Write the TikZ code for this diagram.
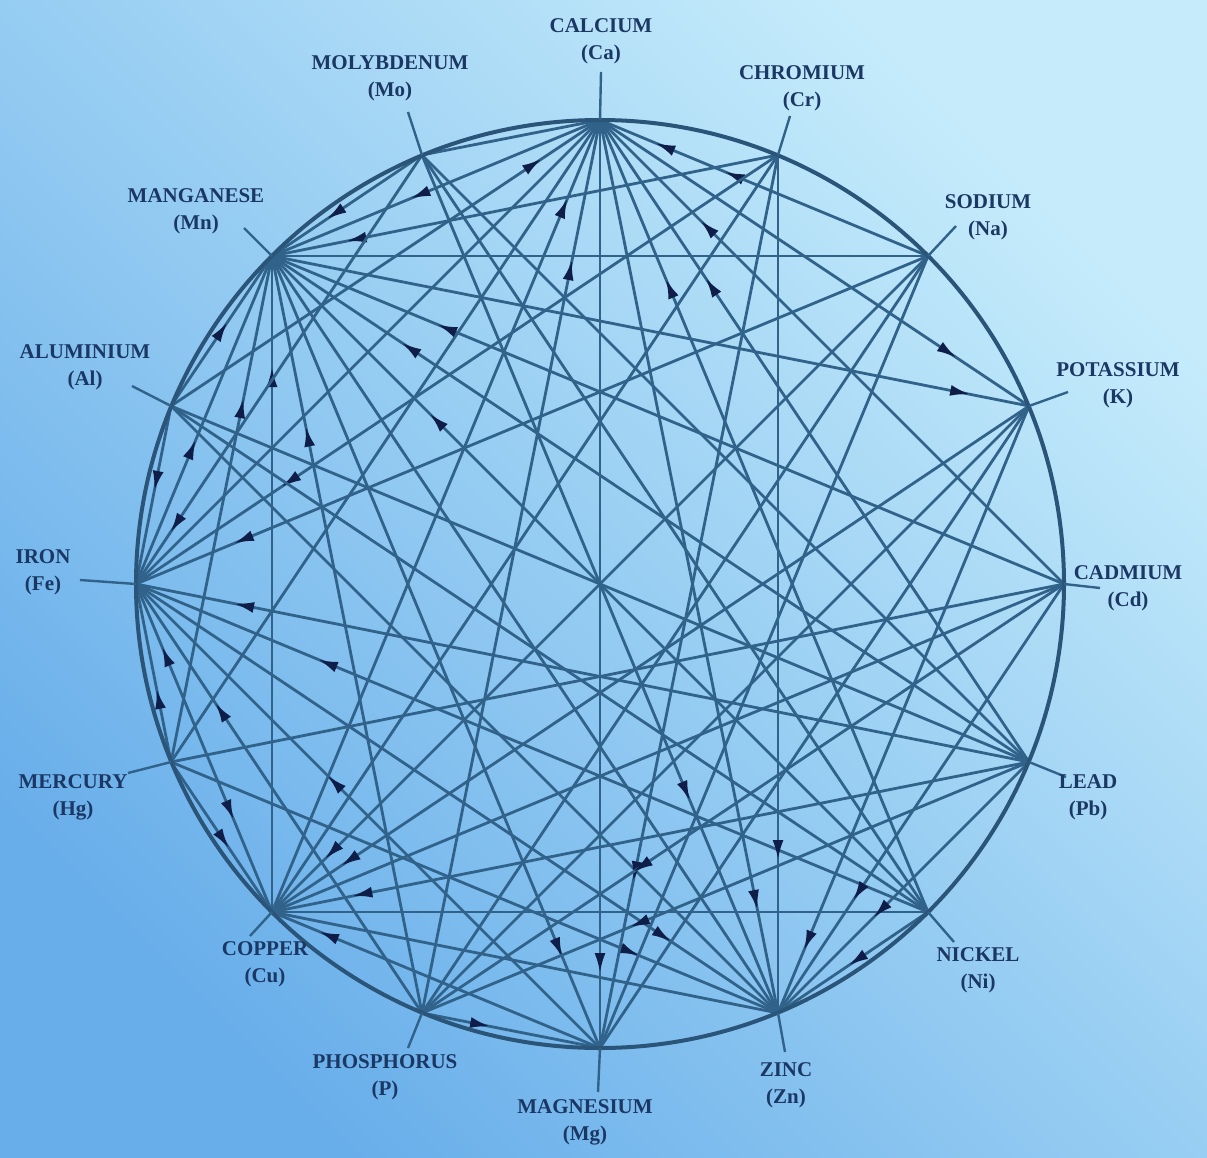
\documentclass[tikz,border=0pt]{standalone}
\usepackage{fontspec}
\setmainfont{Liberation Serif}
\usetikzlibrary{arrows.meta,decorations.markings}
\definecolor{bgLight}{HTML}{C6ECFB}
\definecolor{bgDark}{HTML}{68AEEA}
\definecolor{lineCol}{HTML}{30628A}
\definecolor{rimCol}{HTML}{2B5479}
\definecolor{headCol}{HTML}{0E1E48}
\definecolor{textCol}{HTML}{1B3763}
\begin{document}
\begin{tikzpicture}[x=1pt,y=-1pt,
  chord/.style={draw=lineCol, line width=2.8pt},
  rim/.style={draw=rimCol, line width=4pt},
  tickln/.style={draw=lineCol, line width=2.4pt},
  lab/.style={font=\bfseries\fontsize{21}{27}\selectfont, text=textCol, align=center, inner sep=0pt},
  tipshape/.tip={Latex[length=20pt,width=11pt]},
  aS/.style={postaction={decorate, decoration={markings, mark=at position #1 with {\arrowreversed[headCol]{tipshape}}}}},
  aE/.style={postaction={decorate, decoration={markings, mark=at position -#1 with {\arrow[headCol]{tipshape}}}}},
]
\useasboundingbox (0,0) rectangle (1207,1158);
\shade[top color=bgLight, bottom color=bgDark, shading angle=-45] (0,0) rectangle (1207,1158);

% element points on the wheel
\coordinate (Ca) at (600,120);
\coordinate (Cr) at (778,155);
\coordinate (Na) at (928,256);
\coordinate (K)  at (1029,406);
\coordinate (Cd) at (1064,584);
\coordinate (Pb) at (1029,762);
\coordinate (Ni) at (928,912);
\coordinate (Zn) at (778,1013);
\coordinate (Mg) at (600,1048);
\coordinate (P)  at (422,1013);
\coordinate (Cu) at (272,912);
\coordinate (Hg) at (171,762);
\coordinate (Fe) at (136,584);
\coordinate (Al) at (171,406);
\coordinate (Mn) at (272,256);
\coordinate (Mo) at (422,155);

% tick ends
\coordinate (tCa) at (601,72);
\coordinate (tCr) at (790,116);
\coordinate (tNa) at (956,226);
\coordinate (tK)  at (1068,392);
\coordinate (tCd) at (1100,588);
\coordinate (tPb) at (1066,777);
\coordinate (tNi) at (954,942);
\coordinate (tZn) at (785,1052);
\coordinate (tMg) at (598,1092);
\coordinate (tP)  at (408,1048);
\coordinate (tCu) at (250,936);
\coordinate (tHg) at (128,773);
\coordinate (tFe) at (80,580);
\coordinate (tAl) at (132,386);
\coordinate (tMn) at (244,228);
\coordinate (tMo) at (408,112);

% Calcium
\draw[chord] (Ca) -- (Mo);
\draw[chord] (Ca) -- (Fe);
\draw[chord] (Ca) -- (Hg);
\draw[chord, aS=70pt] (Ca) -- (Al);
\draw[chord, aS=85pt] (Ca) -- (Cu);
\draw[chord, aS=143pt] (Ca) -- (P);
\draw[chord, aE=75pt] (Ca) -- (Mg);
\draw[chord, aE=105pt] (Ca) -- (Zn);
\draw[chord, aS=172pt] (Ca) -- (Ni);
\draw[chord, aS=190pt] (Ca) -- (Pb);
\draw[chord, aS=142pt] (Ca) -- (Cd);
\draw[chord, aE=87pt] (Ca) -- (K);
\draw[chord, aS=60pt, aS=135pt] (Ca) -- (Na);

% Manganese
\draw[chord, aS=150pt] (Mn) -- (Ca);
\draw[chord, aS=76pt] (Mn) -- (Cr);
\draw[chord, aS=66pt] (Mn) -- (Mo);
\draw[chord] (Mn) -- (Na);
\draw[chord, aE=60pt] (Mn) -- (K);
\draw[chord, aS=179pt] (Mn) -- (Cd);
\draw[chord, aS=156pt] (Mn) -- (Pb);
\draw[chord, aS=223pt] (Mn) -- (Ni);
\draw[chord] (Mn) -- (Zn);
\draw[chord, aE=98pt] (Mn) -- (Mg);
\draw[chord, aS=174pt] (Mn) -- (P);
\draw[chord, aS=111pt] (Mn) -- (Cu);
\draw[chord, aS=145pt] (Mn) -- (Hg);
\draw[chord, aS=199pt] (Mn) -- (Fe);
\draw[chord, aS=80pt] (Mn) -- (Al);

% Iron
\draw[chord, aS=95pt] (Fe) -- (Al);
\draw[chord, aS=62pt] (Fe) -- (Mo);
\draw[chord, aS=175pt] (Fe) -- (Cr);
\draw[chord, aS=106pt] (Fe) -- (Na);
\draw[chord, aS=197pt] (Fe) -- (Ni);
\draw[chord, aS=100pt] (Fe) -- (Pb);
\draw[chord, aE=128pt] (Fe) -- (Zn);
\draw[chord, aS=271pt] (Fe) -- (Mg);
\draw[chord, aS=143pt] (Fe) -- (P);
\draw[chord, aS=68pt, aE=100pt] (Fe) -- (Cu);
\draw[chord, aS=107pt] (Fe) -- (Hg);

% Copper
\draw[chord, aS=77pt] (Cu) -- (Hg);
\draw[chord, aS=75pt] (Cu) -- (Na);
\draw[chord, aS=83pt] (Cu) -- (K);
\draw[chord, aS=82pt] (Cu) -- (Pb);
\draw[chord, aS=51pt] (Cu) -- (Mg);
\draw[chord] (Cu) -- (Zn);
\draw[chord] (Cu) -- (Ni);
\draw[chord] (Cu) -- (Cd);
\draw[chord] (Cu) -- (Cr);

% Zinc
\draw[chord, aS=230pt] (Zn) -- (Mo);
\draw[chord, aS=153pt] (Zn) -- (Cr);
\draw[chord, aS=68pt] (Zn) -- (K);
\draw[chord, aS=135pt] (Zn) -- (Cd);
\draw[chord, aS=135pt] (Zn) -- (Pb);
\draw[chord, aS=85pt] (Zn) -- (Ni);
\draw[chord, aS=150pt] (Zn) -- (Hg);
\draw[chord] (Zn) -- (Al);

% Magnesium
\draw[chord, aS=170pt] (Mg) -- (Cr);
\draw[chord, aS=112pt] (Mg) -- (P);
\draw[chord] (Mg) -- (Na);
\draw[chord] (Mg) -- (K);

% Phosphorus
\draw[chord, aS=254pt] (P) -- (Cd);
\draw[chord, aS=225pt] (P) -- (Pb);
\draw[chord] (P) -- (K);
\draw[chord] (P) -- (Na);

% others
\draw[chord] (Hg) -- (Cd);
\draw[chord] (Al) -- (Pb);
\draw[chord] (Al) -- (Ni);
\draw[chord] (Mo) -- (Ni);
\draw[chord] (Mo) -- (Pb);

% wheel rim
\draw[rim] (600,584) circle[radius=464pt];

% ticks
\foreach \e in {Ca,Cr,Na,K,Cd,Pb,Ni,Zn,Mg,P,Cu,Hg,Fe,Al,Mn,Mo}
  \draw[tickln] (\e) -- (t\e);

% labels
\node[lab] (lCa) at (601,41)  {CALCIUM\\(Ca)};
\node[lab] (lMo) at (390,78)  {MOLYBDENUM\\(Mo)};
\node[lab] (lCr) at (802,88)  {CHROMIUM\\(Cr)};
\node[lab] (lNa) at (988,217) {SODIUM\\(Na)};
\node[lab] (lK)  at (1118,385) {POTASSIUM\\(K)};
\node[lab] (lCd) at (1128,588) {CADMIUM\\(Cd)};
\node[lab] (lPb) at (1088,797) {LEAD\\(Pb)};
\node[lab] (lNi) at (978,970) {NICKEL\\(Ni)};
\node[lab] (lZn) at (786,1085) {ZINC\\(Zn)};
\node[lab] (lMg) at (585,1122) {MAGNESIUM\\(Mg)};
\node[lab] (lP)  at (385,1077) {PHOSPHORUS\\(P)};
\node[lab] (lCu) at (265,964) {COPPER\\(Cu)};
\node[lab] (lHg) at (73,797)  {MERCURY\\(Hg)};
\node[lab] (lFe) at (43,572)  {IRON\\(Fe)};
\node[lab] (lAl) at (85,367)  {ALUMINIUM\\(Al)};
\node[lab] (lMn) at (196,211) {MANGANESE\\(Mn)};
\end{tikzpicture}
\end{document}
